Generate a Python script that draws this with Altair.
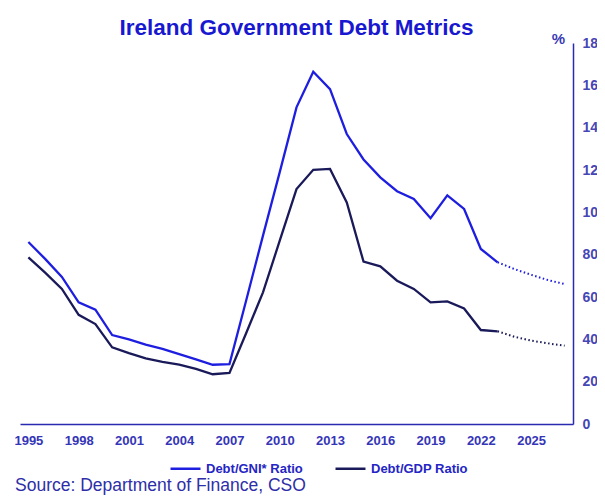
import altair as alt
import pandas as pd

# ---- data ----
years = list(range(1995, 2024))
gni_star = [86, 78, 69.5, 57.5, 54, 42, 40, 37.5, 35.5, 33, 30.5, 28, 28.3,
            58.5, 89, 119, 149.6, 166.4, 158.2, 137, 125, 116.5, 110, 106.3,
            97.2, 108, 101.6, 82.7, 76.4]
gdp = [78.7, 71.5, 63.8, 51.6, 47.2, 36.2, 33.5, 31, 29.4, 28, 26, 23.5, 24.1,
       43, 62.2, 86.6, 111, 120.1, 120.5, 104.7, 76.7, 74.5, 67.7, 63.8,
       57.5, 57.9, 54.6, 44.4, 43.8]
proj_years = [2023, 2024, 2025, 2026, 2027]
gni_star_proj = [76.4, 73.2, 70.5, 68, 66.1]
gdp_proj = [43.8, 41.2, 39.4, 38.1, 37]
series = ["Debt/GNI* Ratio", "Debt/GDP Ratio"]
colors = ["#1e1ee0", "#1a1a5a"]
x_ticks = list(range(1995, 2026, 3))
y_ticks = list(range(0, 181, 20))
title_text = "Ireland Government Debt Metrics"
source_text = "Source: Department of Finance, CSO"

hist = pd.DataFrame({
    "year": years * 2,
    "value": gni_star + gdp,
    "series": [series[0]] * len(years) + [series[1]] * len(years),
})
proj = pd.DataFrame({
    "year": proj_years * 2,
    "value": gni_star_proj + gdp_proj,
    "series": [series[0]] * len(proj_years) + [series[1]] * len(proj_years),
})
src = pd.DataFrame({"t": [source_text]})

FONT = "Liberation Sans"
color_scale = alt.Scale(domain=series, range=colors)

x_enc = alt.X(
    "year:Q",
    scale=alt.Scale(domain=[1994.5, 2027.5], nice=False, zero=False),
    axis=alt.Axis(values=x_ticks, format="d", ticks=False, grid=False,
                  labelPadding=10, labelFont=FONT, labelFontSize=13,
                  labelFontWeight="bold", labelColor="#3535b8",
                  labelFlush=False, labelOverlap=False,
                  domainColor="#2a2ab0", domainWidth=1.5, title=None),
)
y_enc = alt.Y(
    "value:Q",
    scale=alt.Scale(domain=[0, 180], nice=False),
    axis=alt.Axis(orient="right", values=y_ticks, ticks=False, grid=False,
                  labelPadding=9, labelFont=FONT, labelFontSize=14,
                  labelFontWeight="bold", labelColor="#4646b4",
                  domainColor="#2a2ab0", domainWidth=1.5,
                  title="%", titleAngle=0, titleX=-15, titleY=-5,
                  titleAlign="center", titleBaseline="middle",
                  titleFont=FONT, titleFontSize=15, titleFontWeight="bold",
                  titleColor="#3a3ab4"),
)

lines = alt.Chart(hist).mark_line(strokeWidth=2.3).encode(
    x=x_enc,
    y=y_enc,
    color=alt.Color(
        "series:N", scale=color_scale,
        legend=alt.Legend(orient="none", legendX=149, legendY=409,
                          direction="horizontal", title=None,
                          symbolType="stroke", symbolStrokeWidth=2.5,
                          symbolSize=900, labelFont=FONT, labelFontSize=13,
                          labelFontWeight="bold", labelColor="#2525c5",
                          labelOffset=4, columnPadding=27, padding=0),
    ),
    detail="series:N",
)

proj_lines = alt.Chart(proj).mark_line(strokeWidth=2, strokeDash=[1.5, 2.5]).encode(
    x="year:Q",
    y="value:Q",
    color=alt.Color("series:N", scale=color_scale, legend=None),
    detail="series:N",
)

source = alt.Chart(src).mark_text(
    align="left", baseline="alphabetic", font=FONT, fontSize=17.5,
    color="#2e2ea8",
).encode(text="t:N", x=alt.value(-5), y=alt.value(448))

chart = alt.layer(lines, proj_lines, source).properties(
    width=553,
    height=381,
    autosize="none",
    background="white",
    padding={"left": 12, "top": 35, "right": 24, "bottom": 72},
    title=alt.Title(title_text, font=FONT, fontSize=22.5, fontWeight="bold",
                    color="#1818d0", anchor="middle", offset=0, dy=8),
).configure_view(strokeWidth=0, strokeOpacity=0)

chart.save("out.html", embed_options={"renderer": "svg", "actions": False})
